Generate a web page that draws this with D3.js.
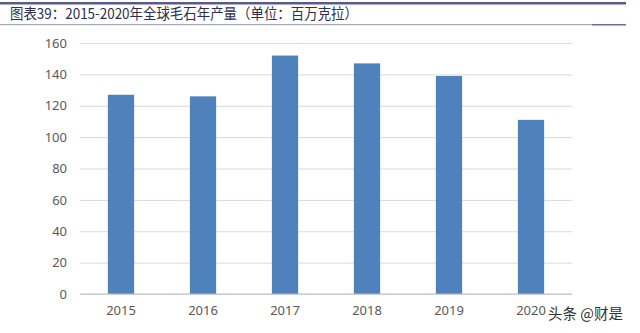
<!DOCTYPE html>
<html><head><meta charset="utf-8">
<script src="https://cdn.jsdelivr.net/npm/d3@7"></script>
<style>body{margin:0;background:#fff}svg{display:block}</style>
</head><body>
<svg id="c" width="640" height="333"></svg>
<script>
const title = "图表39：2015-2020年全球毛石年产量（单位：百万克拉）";
const categories = ["2015","2016","2017","2018","2019","2020"];
const values = [127,126,152,147,139,111];
const yTicks = [0,20,40,60,80,100,120,140,160];
const watermark = "头条 @财是";

const svg = d3.select("#c");
const W = 640, H = 333;
const m = {left:80, right:68, top:43, bottom:39};
const x = d3.scaleBand().domain(categories).range([m.left, W - m.right]).paddingInner(0.68).paddingOuter(0.34);
const y = d3.scaleLinear().domain([0,160]).range([H - m.bottom, m.top]);
const numFont = "'Noto Sans', 'Open Sans', sans-serif";

// header lines
svg.append("rect").attr("x",0).attr("y",2).attr("width",626).attr("height",2.5).attr("fill","#5a5a8c");
svg.append("rect").attr("x",0).attr("y",24).attr("width",592).attr("height",1.2).attr("fill","#a8a8bc");
svg.append("rect").attr("x",592).attr("y",24).attr("width",34).attr("height",1.5).attr("fill","#6c6c98");
svg.append("text").attr("x",10).attr("y",19).attr("font-family","'Noto Sans CJK SC'")
  .attr("font-size",14.5).attr("fill","#2e2e50").attr("textLength",348).attr("lengthAdjust","spacingAndGlyphs").text(title);

// grid
const yAxis = d3.axisLeft(y).tickValues(yTicks).tickSize(-(W - m.left - m.right)).tickPadding(13);
const gy = svg.append("g").attr("transform",`translate(${m.left},0)`).call(yAxis);
gy.select(".domain").remove();
gy.selectAll(".tick line").attr("stroke","#d9d9d9").attr("stroke-width",1);
gy.selectAll(".tick text").attr("font-family",numFont).attr("font-size",13).attr("fill","#595959");

// bars
svg.append("g").selectAll("rect").data(values).join("rect")
  .attr("x",(d,i)=>x(categories[i])).attr("width",x.bandwidth())
  .attr("y",d=>y(d)).attr("height",d=>y(0)-y(d)).attr("fill","#4f81bd");

// baseline
svg.append("line").attr("x1",m.left).attr("x2",W-m.right).attr("y1",y(0)).attr("y2",y(0)).attr("stroke","#bfbfbf");

const xAxis = d3.axisBottom(x).tickSize(0).tickPadding(12);
const gx = svg.append("g").attr("transform",`translate(0,${y(0)})`).call(xAxis);
gx.select(".domain").remove();
gx.selectAll(".tick text").attr("font-family",numFont).attr("font-size",13).attr("fill","#595959");

svg.append("text").attr("x",548).attr("y",319).attr("font-family","'Noto Sans CJK SC'").attr("font-size",14.5).attr("fill","#333").text(watermark);
</script>
</body></html>
